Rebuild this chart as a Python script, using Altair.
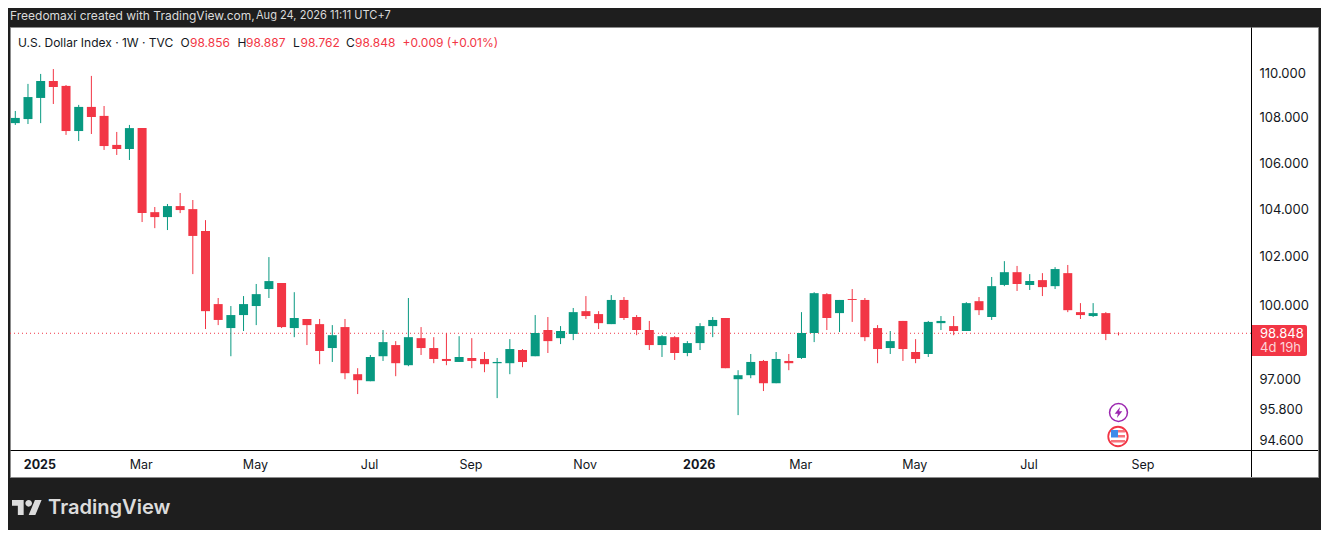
import altair as alt
import pandas as pd

highs = [108.30,109.51,109.96,110.18,109.46,108.57,109.87,108.52,107.37,107.68,107.54,104.11,104.24,104.71,104.41,103.55,
         100.29,99.96,100.37,100.87,101.99,100.91,100.53,99.43,99.43,99.18,99.43,97.44,97.97,98.98,98.53,100.29,
         99.10,98.69,98.86,98.73,98.65,98.09,97.85,98.61,98.21,99.59,99.51,99.14,99.88,100.37,99.75,100.41,
         100.33,99.59,99.35,98.77,98.73,98.53,99.26,99.51,99.47,97.36,98.01,97.77,98.09,98.01,99.71,100.53,
         100.49,100.21,100.66,100.29,99.18,98.94,99.35,98.61,99.35,99.55,99.55,100.12,100.33,101.16,101.82,101.62,
         101.28,101.32,101.57,101.66,100.08,100.08,99.71,98.887]
lows = [107.68,107.72,107.76,108.61,107.24,106.97,107.28,106.58,106.36,106.14,103.47,103.21,103.13,103.85,101.28,99.02,
        99.18,97.92,98.94,99.18,100.29,99.06,98.69,98.37,97.60,97.69,97.00,96.41,96.92,97.73,97.12,97.52,
        97.97,97.64,97.56,97.69,97.44,97.28,96.25,97.20,97.48,97.92,98.05,98.41,98.57,99.43,99.02,99.22,
        99.39,98.77,98.17,97.89,97.77,97.92,98.17,98.69,97.44,95.58,97.04,96.53,96.84,97.36,97.81,98.49,
        98.98,98.90,99.31,98.53,97.64,98.01,97.73,97.64,97.89,98.98,98.77,98.94,99.59,99.39,100.78,100.58,
        100.62,100.37,100.66,99.71,99.43,99.51,98.57,98.762]
opens = [107.76,107.94,108.88,109.64,109.42,107.41,108.48,108.08,106.80,106.62,107.54,103.89,103.68,104.15,104.02,103.09,
         100.04,99.06,99.59,99.96,100.66,100.91,99.06,99.43,99.22,98.25,99.10,97.20,96.92,97.92,98.37,97.56,
         98.65,98.25,97.81,97.69,97.85,97.81,97.64,97.64,98.17,97.92,98.98,98.65,98.82,99.75,99.63,99.22,
         100.21,99.51,98.98,98.37,98.69,98.05,98.45,99.14,99.47,97.00,97.16,97.73,96.84,97.73,97.85,98.86,
         100.45,99.67,100.25,100.21,99.06,98.25,99.35,98.09,98.01,99.26,99.14,98.94,100.16,99.51,100.83,101.36,
         100.83,101.03,100.78,101.32,99.71,99.55,99.67,98.856]
closes = [107.99,108.92,109.64,109.37,107.41,108.48,108.03,106.75,106.62,107.54,103.85,103.68,104.15,103.98,102.88,99.75,
          99.39,99.59,100.04,100.45,100.99,99.10,99.47,99.18,98.13,98.77,97.24,96.96,97.89,98.49,97.64,98.69,
          98.25,97.81,97.73,97.89,97.73,97.60,97.69,98.21,97.69,98.86,98.53,98.94,99.71,99.55,99.26,100.21,
          99.47,98.98,98.37,98.73,98.05,98.45,99.14,99.39,97.44,97.16,97.69,96.84,97.81,97.64,98.86,100.49,
          99.47,100.21,100.21,98.69,98.21,98.53,98.21,97.81,99.31,99.35,98.94,100.08,99.79,100.78,101.36,100.87,
          100.99,100.74,101.49,99.79,99.59,99.67,98.82,98.848]

week_ticks = [2, 10, 19, 28, 36, 45, 54, 62, 71, 80, 89]
week_labels = ["2025", "Mar", "May", "Jul", "Sep", "Nov", "2026", "Mar", "May", "Jul", "Sep"]
price_ticks = [110, 108, 106, 104, 102, 100, 97, 95.8, 94.6]
last_price = 98.848

UP, DOWN = "#089981", "#f23645"
FRAME = "#1e1e1e"
INK = "#131722"
FONT = "Inter"

df = pd.DataFrame({"week": range(len(opens)), "open": opens, "close": closes, "high": highs, "low": lows})
df["dir"] = ["up" if c >= o else "down" for o, c in zip(opens, closes)]

PLOT_W, PLOT_H = 1241, 423
xscale = alt.Scale(domain=[-0.418, 97.45], nice=False, zero=False, padding=0)
yscale = alt.Scale(type="log", domain=[94.22, 112.10], nice=False)
color = alt.Color("dir:N", scale=alt.Scale(domain=["up", "down"], range=[UP, DOWN]), legend=None)

label_map = "{" + ",".join(f"'{v}':'{t}'" for v, t in zip(week_ticks, week_labels)) + "}"
xaxis = alt.Axis(values=week_ticks, labelExpr=f"{label_map}[datum.value]", title=None, grid=False, domain=False,
                 ticks=False, labelFont=FONT, labelFontSize=12.5, labelColor=INK, labelPadding=8, zindex=1,
                 labelOffset=-1.3,
                 labelFontWeight={"condition": {"test": "datum.value == 2 || datum.value == 54", "value": 700},
                                  "value": 400},
                 labelOverlap=False, labelFlush=False)
yaxis = alt.Axis(values=price_ticks, orient="right", format=".3f", title=None, grid=False, domain=False, ticks=False,
                 labelFont=FONT, labelFontSize=13, labelColor=INK, labelPadding=8, zindex=1, labelOverlap=False)

X = alt.X("week:Q", scale=xscale, axis=xaxis)


def txt(s, page_x, page_y, col=INK, size=12, weight=400, align="left"):
    return alt.Chart(pd.DataFrame({"t": [s]})).mark_text(
        font=FONT, fontSize=size, fontWeight=weight, color=col, align=align, baseline="middle"
    ).encode(text="t:N", x=alt.value(page_x - 10), y=alt.value(page_y - 27))


def box(x0, x1, y0, y1, **kw):
    return alt.Chart(pd.DataFrame({"a": [0]})).mark_rect(**kw).encode(
        x=alt.value(x0 - 10), x2=alt.value(x1 - 10), y=alt.value(y0 - 27), y2=alt.value(y1 - 27))


def shape(path, page_x, page_y, size, **kw):
    return alt.Chart(pd.DataFrame({"a": [0]})).mark_point(shape=path, size=size, **kw).encode(
        x=alt.value(page_x - 10), y=alt.value(page_y - 27))


panel = box(10.5, 1318.5, 27.5, 477.5, fill="#ffffff", stroke="#8c8c8c", strokeWidth=1)

last_line = alt.Chart(pd.DataFrame({"p": [last_price]})).mark_rule(
    color=DOWN, strokeWidth=1, strokeDash=[1, 3]
).encode(y=alt.Y("p:Q", scale=yscale, axis=yaxis))

wicks = alt.Chart(df).mark_rule(strokeWidth=1).encode(
    x=X, y=alt.Y("low:Q", scale=yscale, axis=yaxis), y2="high:Q", color=color)
bodies = alt.Chart(df).mark_bar(size=9, orient="vertical").encode(
    x=X, y=alt.Y("open:Q", scale=yscale, axis=yaxis), y2="close:Q", color=color)

v_div = alt.Chart(pd.DataFrame({"a": [0]})).mark_rule(color="#000000", strokeWidth=1).encode(
    x=alt.value(1251.5 - 10), y=alt.value(0.5), y2=alt.value(477 - 27))
h_div = alt.Chart(pd.DataFrame({"a": [0]})).mark_rule(color="#000000", strokeWidth=1).encode(
    x=alt.value(0.5), x2=alt.value(1318 - 10), y=alt.value(450.5 - 27))

price_tag = box(1252, 1307, 325, 356, fill=DOWN, cornerRadiusTopRight=2, cornerRadiusBottomRight=2)
tag_texts = [txt("98.848", 1260, 333.8, "#ffffff", 13), txt("4d 19h", 1260, 347.5, "#fcd4d8", 13)]

header_a = txt("Freedomaxi created with TradingView.com,", 10, 15.5, "#dbdbdb", 12)
header_b = txt("Aug 24, 2026 11:11 UTC+7", 256, 15.5, "#dbdbdb", 11.05)
legend_parts = [
    ("U.S. Dollar Index · 1W · TVC", 18, INK), ("O", 180.5, INK), ("98.856", 190, DOWN), ("H", 237.5, INK),
    ("98.887", 246, DOWN), ("L", 293, INK), ("98.762", 300.5, DOWN), ("C", 346, INK), ("98.848", 355, DOWN),
    ("+0.009 (+0.01%)", 402.5, DOWN),
]
legend_texts = [txt(s, x, 42.5, c, 12) for s, x, c in legend_parts]

logo_path = "M14 22H7V11H0V4h14v18zM28 22h-8l7.5-18h8L28 22zM24 8a4 4 0 1 1-8 0a4 4 0 1 1 8 0z"
logo = shape(logo_path, 12, 496.7, 2.78, filled=True, fill="#dcdcdc", opacity=1, strokeWidth=0)
logo_text = txt("TradingView", 48, 508, "#dcdcdc", 20.1, 600)

ring_purple = shape("circle", 1118.5, 412.5, 320, filled=True, fill="#ffffff", stroke="#9c27b0", strokeWidth=1.5, opacity=1)
bolt = shape("M1.6 -5.5L-3.8 1.2H-0.6L-1.6 5.5L3.8 -1.2H0.6z", 1118.5, 412.5, 4, filled=True, fill="#9c27b0", opacity=1, strokeWidth=0)
ring_flag = shape("circle", 1118, 436.5, 380, filled=True, fill="#ffffff", stroke=DOWN, strokeWidth=1.8, opacity=1)
flag_red = shape("M0 -6.5H7V-4H0zM0 -1.5H7V1H0zM-7 3.5H7V6H-7z", 1118, 436.5, 4, filled=True, fill="#f7727c", opacity=1, strokeWidth=0)
flag_blue = shape("M-7 -6.5H0V1H-7z", 1118, 436.5, 4, filled=True, fill="#3d8bea", opacity=1, strokeWidth=0)

chart = alt.layer(
    panel, last_line, wicks, bodies, v_div, h_div, price_tag, *tag_texts, header_a, header_b, *legend_texts, logo,
    logo_text, ring_purple, bolt, ring_flag, flag_red, flag_blue,
).properties(
    width=PLOT_W, height=PLOT_H, background=FRAME,
    padding={"left": 2, "top": 19, "right": 70, "bottom": 80},
    autosize=alt.AutoSizeParams(type="none", contains="content"),
).configure_view(strokeWidth=0)

chart.save("out.html", embed_options={"renderer": "svg", "actions": False})
